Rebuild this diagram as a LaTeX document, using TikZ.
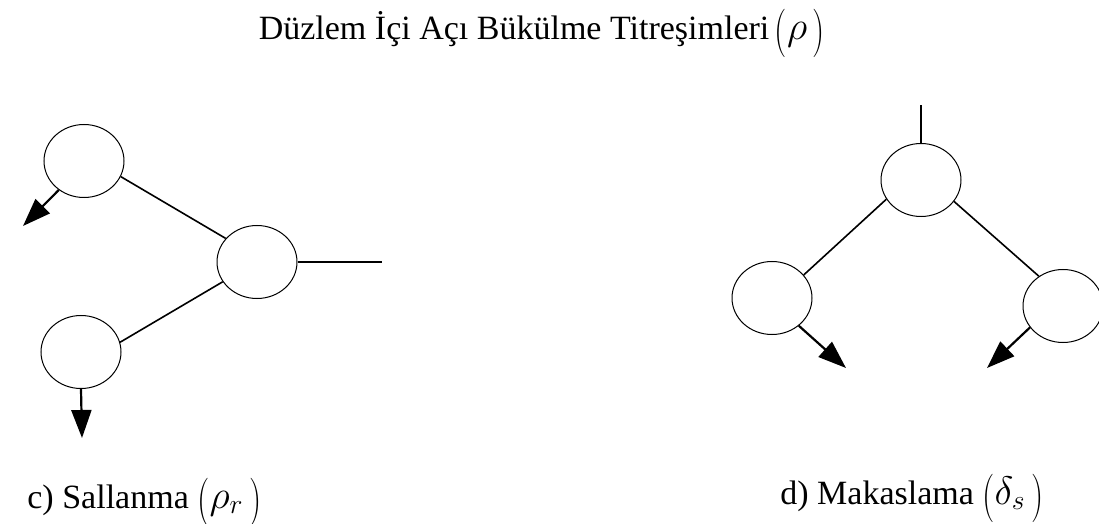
\documentclass[tikz,border=0pt]{standalone}
\usepackage{fontspec}
\usepackage{graphicx}
\setmainfont{Liberation Serif}
\usetikzlibrary{shapes.geometric,arrows.meta}
\newcommand{\lpar}{\raisebox{-3pt}{\scalebox{1}[1.4]{$($}}}
\newcommand{\rpar}{\raisebox{-3pt}{\scalebox{1}[1.4]{$)$}}}
\newcommand{\tallparen}[1]{\lpar\scalebox{1.15}{$#1$}\,\rpar}
\tikzset{
  atom/.style={ellipse,draw,line width=0.5pt,minimum width=40pt,minimum height=36.5pt,inner sep=0pt},
  bond/.style={line width=0.8pt},
  motion/.style={line width=1.1pt,-{Triangle[length=14pt,width=10pt]}},
  lbl/.style={font=\fontsize{17}{20}\selectfont,inner sep=0pt}
}
\begin{document}
\begin{tikzpicture}[x=0.5pt,y=-0.5pt]
\useasboundingbox (0,0) rectangle (1099,524);
% title
\node[lbl,anchor=base] (title) at (542,40) {Düzlem İçi Açı Bükülme Titreşimleri\,\tallparen{\rho}};
% left: rocking
\node[atom] (tl) at (84,161) {};
\node[atom] (mid) at (257,262) {};
\node[atom] (bl) at (81,352) {};
\coordinate (mr) at (382,262);
\coordinate (tltip) at (23,226);
\coordinate (bltip) at (82,438);
\draw[bond] (tl.337) -- (mid.143);
\draw[bond] (bl.14) -- (mid.210);
\draw[bond] (mid.east) -- (mr);
\draw[motion] (tl.229) -- (tltip);
\draw[motion] (bl.south) -- (bltip);
\node[lbl,anchor=base west] (lc) at (27,508) {c) Sallanma \tallparen{\rho_r}};
% right: scissoring
\node[atom] (top) at (921,180) {};
\node[atom] (rl) at (772,298) {};
\node[atom] (rr) at (1063,306) {};
\coordinate (topup) at (921,105);
\coordinate (rltip) at (846,368);
\coordinate (rrtip) at (987,368);
\draw[bond] (top.north) -- (topup);
\draw[bond] (top.209) -- (rl.36);
\draw[bond] (top.327) -- (rr.129);
\draw[motion] (rl.314) -- (rltip);
\draw[motion] (rr.213) -- (rrtip);
\node[lbl,anchor=base west] (ld) at (780,504) {d) Makaslama \tallparen{\delta_s}};
\end{tikzpicture}
\end{document}
